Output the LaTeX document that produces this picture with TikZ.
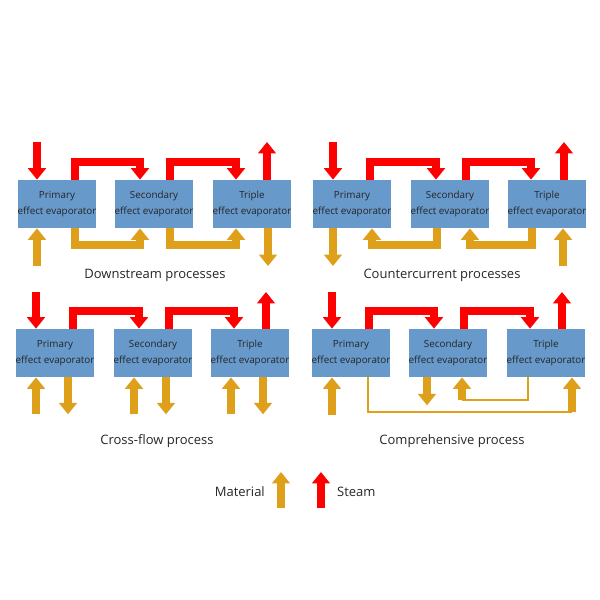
\documentclass[tikz,border=0pt]{standalone}
\usepackage{fontspec}
\setmainfont{Open Sans}
\usetikzlibrary{arrows.meta,positioning}
\definecolor{boxblue}{RGB}{103,153,203}
\definecolor{matgold}{RGB}{222,160,26}
\definecolor{steamred}{RGB}{255,0,0}
\tikzset{
  evap/.style={rectangle,fill=boxblue,minimum width=1.54cm,minimum height=0.96cm,
    inner sep=0pt,align=center,font=\fontsize{5.6}{9.2}\selectfont,text=black!85},
  steam/.style={draw=steamred,line width=4.6pt,line join=miter,
    -{Triangle[width=10pt,length=6.5pt]}},
  mat/.style={draw=matgold,line width=4.6pt,line join=miter,
    -{Triangle[width=10pt,length=6.5pt]}},
  thinmat/.style={draw=matgold,line width=1.2pt},
  caption/.style={font=\fontsize{7.4}{8}\selectfont,text=black!85}
}
\begin{document}
\begin{tikzpicture}[x=0.02cm,y=-0.02cm]
  \useasboundingbox (0,0) rectangle (600,600);
  % downstream
  \node[evap] (a1) at (57,204) {Primary\\effect evaporator};
  \node[evap] (a2) at (154,204) {Secondary\\effect evaporator};
  \node[evap] (a3) at (252,204) {Triple\\effect evaporator};
  \node[caption] (ta) at (155,275) {Downstream processes};
  \coordinate (a1in) at (37,142);
  \coordinate (a3out) at (267,142);
  \coordinate (a1m) at (37,266);
  \coordinate (a3m) at (268,266);
  \draw[steam] (a1in) -- (a1in |- a1.north);
  \draw[steam] ([xshift=0.36cm]a1.north) -- ++(0,-18) -| ([xshift=-0.28cm]a2.north);
  \draw[steam] ([xshift=0.32cm]a2.north) -- ++(0,-18) -| ([xshift=-0.32cm]a3.north);
  \draw[steam] (a3out |- a3.north) -- (a3out);
  \draw[mat] (a1m) -- (a1m |- a1.south);
  \draw[mat] ([xshift=0.36cm]a1.south) -- ++(0,17) -| ([xshift=-0.28cm]a2.south);
  \draw[mat] ([xshift=0.32cm]a2.south) -- ++(0,17) -| ([xshift=-0.32cm]a3.south);
  \draw[mat] (a3m |- a3.south) -- (a3m);
  % countercurrent
  \node[evap] (b1) at (352,204) {Primary\\effect evaporator};
  \node[evap] (b2) at (450,204) {Secondary\\effect evaporator};
  \node[evap] (b3) at (547,204) {Triple\\effect evaporator};
  \node[caption] (tb) at (442,275) {Countercurrent processes};
  \coordinate (b1in) at (333,142);
  \coordinate (b3out) at (564,142);
  \coordinate (b1m) at (333,266);
  \coordinate (b3m) at (563,266);
  \draw[steam] (b1in) -- (b1in |- b1.north);
  \draw[steam] ([xshift=0.36cm]b1.north) -- ++(0,-18) -| ([xshift=-0.28cm]b2.north);
  \draw[steam] ([xshift=0.32cm]b2.north) -- ++(0,-18) -| ([xshift=-0.32cm]b3.north);
  \draw[steam] (b3out |- b3.north) -- (b3out);
  \draw[mat] (b1m |- b1.south) -- (b1m);
  \draw[mat] ([xshift=-0.26cm]b2.south) -- ++(0,17) -| ([xshift=0.4cm]b1.south);
  \draw[mat] ([xshift=-0.3cm]b3.south) -- ++(0,17) -| ([xshift=0.4cm]b2.south);
  \draw[mat] (b3m) -- (b3m |- b3.south);
  % cross-flow
  \node[evap] (c1) at (55,353) {Primary\\effect evaporator};
  \node[evap] (c2) at (153,353) {Secondary\\effect evaporator};
  \node[evap] (c3) at (250,353) {Triple\\effect evaporator};
  \node[caption] (tc) at (157,441) {Cross-flow process};
  \coordinate (c1in) at (36,292);
  \coordinate (c3out) at (266,292);
  \draw[steam] (c1in) -- (c1in |- c1.north);
  \draw[steam] ([xshift=0.36cm]c1.north) -- ++(0,-18) -| ([xshift=-0.28cm]c2.north);
  \draw[steam] ([xshift=0.32cm]c2.north) -- ++(0,-18) -| ([xshift=-0.32cm]c3.north);
  \draw[steam] (c3out |- c3.north) -- (c3out);
  \foreach \b in {c1,c2,c3}{
    \draw[mat] ([xshift=-0.38cm,yshift=-0.74cm]\b.south) -- ([xshift=-0.38cm]\b.south);
    \draw[mat] ([xshift=0.26cm]\b.south) -- ([xshift=0.26cm,yshift=-0.74cm]\b.south);
  }
  % comprehensive
  \node[evap] (d1) at (351,353) {Primary\\effect evaporator};
  \node[evap] (d2) at (448,353) {Secondary\\effect evaporator};
  \node[evap] (d3) at (546,353) {Triple\\effect evaporator};
  \node[caption] (td) at (452,441) {Comprehensive process};
  \coordinate (d1in) at (332,292);
  \coordinate (d3out) at (562,292);
  \coordinate (d1m) at (332,415);
  \coordinate (d3m) at (572,412);
  \coordinate (d2m) at (462,400);
  \draw[steam] (d1in) -- (d1in |- d1.north);
  \draw[steam] ([xshift=0.36cm]d1.north) -- ++(0,-18) -| ([xshift=-0.28cm]d2.north);
  \draw[steam] ([xshift=0.32cm]d2.north) -- ++(0,-18) -| ([xshift=-0.32cm]d3.north);
  \draw[steam] (d3out |- d3.north) -- (d3out);
  \draw[mat] (d1m) -- (d1m |- d1.south);
  \draw[thinmat] ([xshift=0.34cm]d1.south) |- (d3m);
  \draw[mat] (d3m) -- (d3m |- d3.south);
  \draw[mat] ([xshift=-0.42cm]d2.south) -- ++(0,28);
  \draw[thinmat] ([xshift=-0.36cm]d3.south) |- (d2m);
  \draw[mat] (d2m) -- (d2m |- d2.south);
  % legend
  \node[caption,anchor=east] (lm) at (271,492) {Material};
  \coordinate (lmt) at (281,472);
  \draw[mat] (lmt |- 0,508) -- (lmt);
  \node[caption,anchor=west] (ls) at (331,492) {Steam};
  \coordinate (lst) at (321,472);
  \draw[steam] (lst |- 0,508) -- (lst);
\end{tikzpicture}
\end{document}
